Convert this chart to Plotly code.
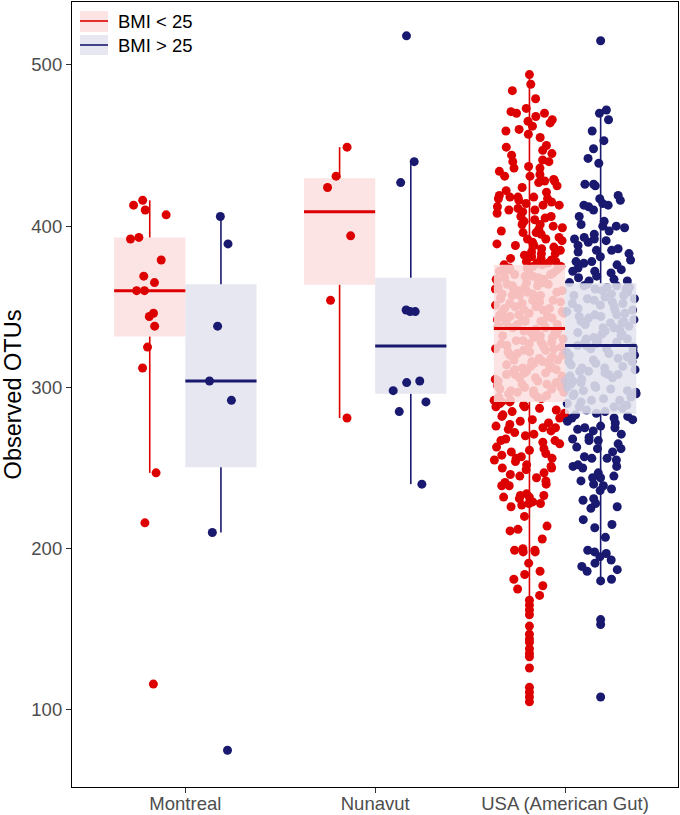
import plotly.graph_objects as go

categories = ["Montreal", "Nunavut", "USA (American Gut)"]
groups = ["BMI < 25", "BMI > 25"]

# observed OTUs per group
montreal_low = [416, 413, 410, 407, 393, 392, 379, 369, 365, 360, 360, 346, 344, 338, 325, 312, 247, 216, 116]
montreal_high = [406, 389, 338, 304, 292, 210, 75]
nunavut_low = [449, 431, 424, 394, 354, 281]
nunavut_high = [518, 440, 427, 348, 347, 347, 304, 303, 298, 291, 285, 240]

usa_low = [
    488, 484, 479, 473, 471, 470, 470, 468, 466, 465, 464, 462, 460, 459, 457, 455, 450, 449, 447,
    445, 444, 441, 440, 440, 437, 436, 436, 434, 432, 431, 431, 429, 428, 428, 427, 425, 424, 422, 421,
    419, 418, 418, 418, 417, 417, 416, 415, 414, 413, 413, 412, 411, 410, 410, 409, 408, 406, 406, 405,
    404, 403, 401, 401, 400, 399, 398, 397, 396, 396, 395, 393, 392, 392, 391, 390, 389, 388, 388, 387,
    386, 385, 384, 383, 383, 382, 381, 380, 380, 379, 378, 378, 377, 377, 376,
    375, 374, 374, 372, 371, 371, 370, 368, 368, 367, 365, 365, 364, 362, 361, 361, 360, 359, 357, 357,
    356, 354, 353, 353, 351, 350, 349, 349, 347, 346, 344, 344, 343, 341, 340, 340, 338, 337, 336, 373,
    369, 366, 363, 358, 355, 352, 348, 345, 342, 339, 376, 372, 367, 362, 359, 356, 350, 346, 341, 338,
    370, 364, 358, 351, 347, 343, 373, 360, 354, 337, 366, 348, 375, 357, 342, 369, 352, 363, 345, 339,
    335, 334, 332, 332, 331, 329, 328, 328, 326, 325, 323, 323, 322, 320, 319, 318, 316, 315, 315, 313,
    312, 310, 310, 309, 307, 306, 304, 304, 303, 301, 300, 298, 298, 297, 295, 294, 292, 291, 333, 330,
    327, 324, 321, 317, 314, 311, 308, 305, 302, 299, 296, 293, 336, 331, 326, 318, 312, 306, 300, 294,
    329, 322, 316, 309, 303, 297, 334, 325, 313, 305, 292, 320, 308, 296, 327, 311, 299, 324, 302, 317,
    290, 289, 288, 288, 287, 286, 285, 284, 283, 282, 282, 291,
    281, 280, 279, 278, 277, 276, 275, 275, 274, 273, 272, 271, 270,
    268, 267, 267, 266, 265, 263, 262, 261, 260, 259, 258, 257, 256, 256, 255,
    254, 252, 251, 250, 250, 249, 247, 246, 245, 244, 242, 241,
    240, 239, 239, 234, 233, 233, 232, 232, 231, 229, 228, 228, 227, 226, 220, 214, 212, 211, 206, 200,
    199, 199, 198, 198, 191, 186, 184, 181, 177, 175, 171,
]
# sparse tail values that sit on the centre line
usa_low_tail = [494, 168, 165, 162, 159, 152, 147, 144, 142, 138, 135, 133, 126, 114, 111, 108, 105]

usa_high = [
    472, 470, 466, 459, 453, 448, 442, 439, 426, 426, 425, 419, 417, 416, 414, 413, 413, 412, 410,
    406, 403, 401, 400, 400, 399, 397, 395, 393, 392, 392, 391, 390, 388, 386, 385, 385, 384, 383, 381,
    379, 378, 378, 377, 376, 374, 373, 372, 372, 371, 369, 368, 367, 366, 366,
    365, 364, 363, 362, 361, 360, 359, 357, 356, 355, 353, 352, 351, 349, 348, 347, 345, 344, 343, 341,
    340, 338, 337, 336, 334, 333, 331, 330, 329, 327, 326, 363, 358, 354, 350, 346, 342, 339, 335, 332,
    328, 361, 352, 344, 337, 330, 357, 348, 340, 362, 345, 333, 355, 341, 328,
    325, 324, 323, 321, 320, 319, 317, 316, 315, 313, 312, 311, 309, 308, 307, 305, 304, 303, 301, 300,
    299, 297, 296, 295, 293, 292, 291, 289, 288, 287, 285, 284, 322, 318, 314, 310, 306, 302, 298, 294,
    290, 286, 326, 320, 312, 304, 296, 288, 316, 308, 300, 292, 324, 310, 298,
    283, 282, 281, 281, 280, 279, 278, 276, 275, 275, 274, 273, 271, 269, 268, 267, 267, 265, 263, 262,
    262, 260, 257, 256, 256, 255, 252, 251, 251, 250, 247, 245, 244, 244, 242, 240, 239, 237, 236, 231,
    230, 228, 226, 225, 218, 215, 213, 207, 199, 198, 197, 195, 193, 191, 189, 187, 186, 181,
]
usa_high_tail = [515, 180, 156, 153, 108]

# box statistics, per category
low_q1 = [331.5, 363.6, 291]
low_median = [360, 409, 336.5]
low_q3 = [393, 429.7, 376]
low_lower = [247, 281, 168]
low_upper = [416, 449, 494]

high_q1 = [250.5, 296, 283.6]
high_median = [304, 325.7, 326]
high_q3 = [364, 368, 364.6]
high_lower = [210, 240, 180]
high_upper = [406, 440, 472]

y_ticks = [100, 200, 300, 400, 500]

RED = "#DD0000"
NAVY = "#191970"
RED_FILL = "rgba(252,223,223,0.85)"
NAVY_FILL = "rgba(226,228,238,0.87)"

BOX_W = 0.375
OFFSET = 0.1875

fig = go.Figure()


def points_trace(pos, values, color, jitter):
    return go.Box(
        x=[pos] * len(values), y=values, boxpoints="all", jitter=jitter, pointpos=0,
        width=BOX_W, fillcolor="rgba(0,0,0,0)", line=dict(width=0, color="rgba(0,0,0,0)"),
        marker=dict(size=9, color=color, line=dict(width=0)), showlegend=False,
        hoverinfo="y",
    )


# USA points lie beneath the box fills
fig.add_trace(points_trace(2 - OFFSET, usa_low, RED, 1.0))
fig.add_trace(points_trace(2 - OFFSET, usa_low_tail, RED, 0))
fig.add_trace(points_trace(2 + OFFSET, usa_high, NAVY, 1.0))
fig.add_trace(points_trace(2 + OFFSET, usa_high_tail, NAVY, 0))

# box fills
for off, q1, med, q3, lo, hi, fill in [
    (-OFFSET, low_q1, low_median, low_q3, low_lower, low_upper, RED_FILL),
    (OFFSET, high_q1, high_median, high_q3, high_lower, high_upper, NAVY_FILL),
]:
    fig.add_trace(go.Box(
        x=[i + off for i in range(len(categories))], q1=q1, median=med, q3=q3,
        lowerfence=lo, upperfence=hi, width=BOX_W, fillcolor=fill,
        line=dict(width=0, color="rgba(0,0,0,0)"), boxpoints=False, showlegend=False,
        hoverinfo="skip",
    ))

# Montreal and Nunavut points above the fills
fig.add_trace(points_trace(0 - OFFSET, montreal_low, RED, 0.6))
fig.add_trace(points_trace(0 + OFFSET, montreal_high, NAVY, 0.45))
fig.add_trace(points_trace(1 - OFFSET, nunavut_low, RED, 0.4))
fig.add_trace(points_trace(1 + OFFSET, nunavut_high, NAVY, 0.6))

# whiskers and medians
for off, q1, med, q3, lo, hi, col in [
    (-OFFSET, low_q1, low_median, low_q3, low_lower, low_upper, RED),
    (OFFSET, high_q1, high_median, high_q3, high_lower, high_upper, NAVY),
]:
    wx, wy, mx, my = [], [], [], []
    for i in range(len(categories)):
        p = i + off
        wx += [p, p, None, p, p, None]
        wy += [q3[i], hi[i], None, q1[i], lo[i], None]
        mx += [p - BOX_W / 2, p + BOX_W / 2, None]
        my += [med[i], med[i], None]
    fig.add_trace(go.Scatter(x=wx, y=wy, mode="lines", line=dict(color=col, width=1.6),
                             showlegend=False, hoverinfo="skip"))
    fig.add_trace(go.Scatter(x=mx, y=my, mode="lines", line=dict(color=col, width=3),
                             showlegend=False, hoverinfo="skip"))

FONT = "Liberation Sans, Arial, Helvetica, sans-serif"

# legend (ggplot-style keys)
L, R_, T_, B_ = 72, 678, 2, 787
def px(x):
    return (x - L) / (R_ - L)
def py(y):
    return (B_ - y) / (B_ - T_)

shapes = []
annotations = []
for (top, bot, mid, fill, col, label) in [
    (11, 32, 21, RED_FILL, RED, groups[0]),
    (35, 55, 45, NAVY_FILL, NAVY, groups[1]),
]:
    shapes.append(dict(type="rect", xref="paper", yref="paper", x0=px(80), x1=px(108),
                       y0=py(bot), y1=py(top), fillcolor=fill, line=dict(width=0), layer="above"))
    shapes.append(dict(type="line", xref="paper", yref="paper", x0=px(80), x1=px(108),
                       y0=py(mid), y1=py(mid), line=dict(color=col, width=1.6), layer="above"))
    annotations.append(dict(text=label, xref="paper", yref="paper", x=px(116), y=py(mid + 0.5),
                            xanchor="left", yanchor="middle", showarrow=False,
                            font=dict(size=18.5, color="black", family=FONT)))

fig.update_layout(
    width=680, height=815,
    margin=dict(l=72, r=2, t=2, b=28, autoexpand=False),
    paper_bgcolor="white", plot_bgcolor="white",
    boxmode="overlay", showlegend=False,
    font=dict(family=FONT),
    shapes=shapes, annotations=annotations,
)
fig.update_xaxes(
    range=[-0.597, 2.595], tickvals=[0, 1, 2], ticktext=categories,
    ticks="outside", ticklen=5, tickcolor="#333333", tickwidth=1,
    tickfont=dict(size=18.5, color="#4D4D4D", family=FONT), automargin=False,
    ticklabelstandoff=-5,
    showgrid=False, zeroline=False, showline=True, mirror=True, linecolor="black", linewidth=1.2,
)
fig.update_yaxes(
    range=[52.2, 539], tickvals=y_ticks,
    ticks="outside", ticklen=5, tickcolor="#333333", tickwidth=1,
    tickfont=dict(size=18.5, color="#4D4D4D", family=FONT), automargin=False,
    title=dict(text="Observed OTUs", font=dict(size=23.5, color="black", family=FONT), standoff=6),
    showgrid=False, zeroline=False, showline=True, mirror=True, linecolor="black", linewidth=1.2,
)

fig.write_html("out.html", post_script="document.body.style.margin='0px';",
               config={"displayModeBar": False})
